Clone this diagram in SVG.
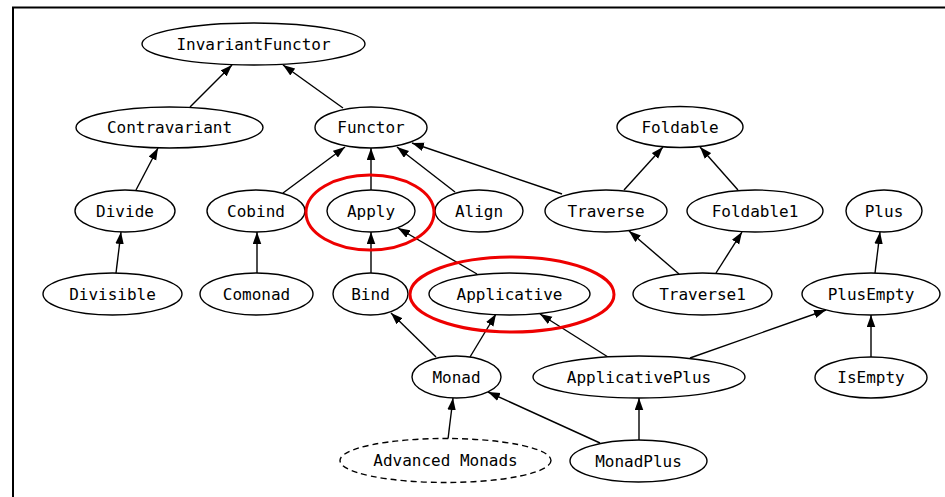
<svg xmlns="http://www.w3.org/2000/svg" width="945" height="497" viewBox="0 0 945 497">
<defs>
<marker id="ah" markerUnits="userSpaceOnUse" markerWidth="13" markerHeight="9" refX="12" refY="4.25" orient="auto">
<path d="M0,0 L12,4.25 L0,8.5 z" fill="#000"/>
</marker>
</defs>
<style>
.n ellipse{fill:#fff;stroke:#000;stroke-width:1.4}
.n text{font-family:"DejaVu Sans Mono",monospace;font-size:16px;text-anchor:middle;fill:#000}
.dash ellipse{stroke-dasharray:6,4}
.hl{fill:none;stroke:#e00;stroke-width:3}
#edges line{stroke:#000;stroke-width:1.4;marker-end:url(#ah)}
</style>
<rect x="0" y="0" width="945" height="497" fill="#fff"/>
<path d="M13,497 L13,7.5 L945,7.5" fill="none" stroke="#000" stroke-width="2"/>
<g id="edges">
<line x1="190" y1="107" x2="232" y2="65"/>
<line x1="343" y1="108" x2="283" y2="65"/>
<line x1="136" y1="190" x2="158" y2="148"/>
<line x1="116" y1="273" x2="121" y2="232"/>
<line x1="257" y1="273" x2="257" y2="232"/>
<line x1="283" y1="193" x2="345" y2="147"/>
<line x1="371" y1="190" x2="371" y2="148"/>
<line x1="455" y1="192" x2="397" y2="147"/>
<line x1="562" y1="194" x2="412" y2="143"/>
<line x1="624" y1="190" x2="663" y2="147"/>
<line x1="738" y1="190" x2="700" y2="147"/>
<line x1="875" y1="273" x2="880" y2="232"/>
<line x1="679" y1="274" x2="629" y2="231"/>
<line x1="716" y1="273" x2="742" y2="232"/>
<line x1="371" y1="273" x2="371" y2="232"/>
<line x1="477" y1="274" x2="398" y2="228"/>
<line x1="436" y1="357" x2="391" y2="313"/>
<line x1="470" y1="357" x2="496" y2="314"/>
<line x1="608" y1="357" x2="540" y2="314"/>
<line x1="690" y1="358" x2="826" y2="310"/>
<line x1="871" y1="357" x2="871" y2="315"/>
<line x1="448" y1="439" x2="453" y2="398"/>
<line x1="600" y1="443" x2="488" y2="392"/>
<line x1="639" y1="440" x2="639" y2="398"/>
</g>
<g id="InvariantFunctor" class="n"><ellipse cx="253.5" cy="44" rx="111.5" ry="21"/><text x="253.5" y="49.5">InvariantFunctor</text></g>
<g id="Contravariant" class="n"><ellipse cx="169.5" cy="127.5" rx="93.5" ry="20.5"/><text x="169.5" y="133">Contravariant</text></g>
<g id="Functor" class="n"><ellipse cx="371" cy="127.5" rx="56" ry="20.5"/><text x="371" y="133">Functor</text></g>
<g id="Foldable" class="n"><ellipse cx="680" cy="127" rx="63" ry="20.5"/><text x="680" y="132.5">Foldable</text></g>
<g id="Divide" class="n"><ellipse cx="125" cy="211" rx="50" ry="21"/><text x="125" y="216.5">Divide</text></g>
<g id="Cobind" class="n"><ellipse cx="256" cy="211" rx="49" ry="21"/><text x="256" y="216.5">Cobind</text></g>
<g id="Apply" class="n"><ellipse cx="371" cy="211" rx="44" ry="21"/><text x="371" y="216.5">Apply</text></g>
<g id="Align" class="n"><ellipse cx="479" cy="211" rx="44" ry="21"/><text x="479" y="216.5">Align</text></g>
<g id="Traverse" class="n"><ellipse cx="606" cy="211" rx="61" ry="21"/><text x="606" y="216.5">Traverse</text></g>
<g id="Foldable1" class="n"><ellipse cx="755" cy="211" rx="68" ry="21"/><text x="755" y="216.5">Foldable1</text></g>
<g id="Plus" class="n"><ellipse cx="884" cy="211" rx="38" ry="21"/><text x="884" y="216.5">Plus</text></g>
<g id="Divisible" class="n"><ellipse cx="112.5" cy="294" rx="69.5" ry="21"/><text x="112.5" y="299.5">Divisible</text></g>
<g id="Comonad" class="n"><ellipse cx="256.5" cy="294" rx="56.5" ry="21"/><text x="256.5" y="299.5">Comonad</text></g>
<g id="Bind" class="n"><ellipse cx="370.5" cy="294" rx="37.5" ry="21"/><text x="370.5" y="299.5">Bind</text></g>
<g id="Applicative" class="n"><ellipse cx="509.5" cy="294" rx="80.5" ry="21"/><text x="509.5" y="299.5">Applicative</text></g>
<g id="Traverse1" class="n"><ellipse cx="702.5" cy="294" rx="69.5" ry="21"/><text x="702.5" y="299.5">Traverse1</text></g>
<g id="PlusEmpty" class="n"><ellipse cx="871" cy="294" rx="69" ry="21"/><text x="871" y="299.5">PlusEmpty</text></g>
<g id="Monad" class="n"><ellipse cx="456.5" cy="377" rx="44.5" ry="21"/><text x="456.5" y="382.5">Monad</text></g>
<g id="ApplicativePlus" class="n"><ellipse cx="639" cy="377" rx="106" ry="21"/><text x="639" y="382.5">ApplicativePlus</text></g>
<g id="IsEmpty" class="n"><ellipse cx="871" cy="377.5" rx="56" ry="20.5"/><text x="871" y="383">IsEmpty</text></g>
<g id="AdvancedMonads" class="n dash"><ellipse cx="445.5" cy="460.5" rx="105.5" ry="22"/><text x="445.5" y="466">Advanced Monads</text></g>
<g id="MonadPlus" class="n"><ellipse cx="638.5" cy="461" rx="68.5" ry="21"/><text x="638.5" y="466.5">MonadPlus</text></g>
<g id="highlights">
<ellipse class="hl" cx="370" cy="212.5" rx="64" ry="37.5"/>
<ellipse class="hl" cx="512" cy="294.5" rx="102" ry="37.5"/>
</g>
</svg>
